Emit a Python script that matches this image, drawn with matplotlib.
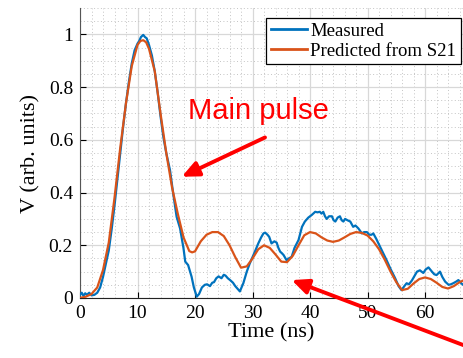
import matplotlib
matplotlib.use("Agg")
import matplotlib.pyplot as plt
from matplotlib.ticker import MultipleLocator, FuncFormatter

# measured pulse
t_meas = [0, 0.3, 0.6, 0.9, 1.2, 1.6, 2, 2.5, 3, 3.5, 4, 4.5, 5, 5.5, 6, 6.5, 7, 7.5, 8, 8.5,
          9, 9.5, 10, 10.3, 10.6, 11, 11.3, 11.6, 12, 12.5, 13, 13.5, 14, 14.5, 15, 15.65,
          16.2, 16.8, 17.4, 18.0, 18.3, 18.8, 19.4, 19.8, 20.3, 20.7, 21.2, 21.7, 22.1, 22.6,
          23.0, 23.3, 23.7, 24.1, 24.6, 25.0, 25.3, 25.7, 26.1, 26.6, 27.0, 27.4, 27.8, 28.4,
          29.0, 29.5, 29.9, 30.4, 31.0, 31.5, 31.9, 32.2, 32.6, 32.9, 33.3, 33.8, 34.2, 34.5,
          34.8, 35.1, 35.4, 35.9, 36.3, 36.8, 37.3, 38.0, 38.6, 39.1, 39.7, 40.3, 40.9, 41.3,
          41.7, 42.0, 42.3, 42.6, 42.9, 43.3, 43.8, 44.1, 44.4, 44.8, 45.2, 45.5, 45.8, 46.1,
          46.5, 47.0, 47.5, 47.9, 48.4, 48.7, 49.0, 49.4, 49.9, 50.3, 50.7, 51.0, 51.5, 51.9,
          52.6, 53.3, 54.0, 54.8, 55.4, 55.9, 56.4, 56.8, 57.2, 57.7, 58.2, 58.6, 59.1, 59.7,
          60.1, 60.6, 61.2, 61.6, 62.0, 62.6, 63.0, 63.5, 64.1, 64.5, 64.9, 65.4, 65.8, 66.2,
          66.6, 67]
v_meas = [0.012, 0.02, 0.008, 0.018, 0.012, 0.02, 0.01, 0.012, 0.02, 0.04, 0.08, 0.13, 0.18,
          0.26, 0.35, 0.45, 0.55, 0.65, 0.74, 0.82, 0.89, 0.94, 0.965, 0.975, 0.99, 0.998,
          0.99, 0.985, 0.96, 0.92, 0.86, 0.78, 0.69, 0.61, 0.55, 0.485, 0.397, 0.308, 0.264,
          0.188, 0.138, 0.125, 0.081, 0.04, 0.005, 0.015, 0.04, 0.05, 0.052, 0.045, 0.058,
          0.06, 0.075, 0.082, 0.075, 0.088, 0.085, 0.075, 0.068, 0.058, 0.045, 0.035, 0.025,
          0.056, 0.1, 0.13, 0.15, 0.175, 0.207, 0.23, 0.245, 0.248, 0.24, 0.232, 0.207, 0.215,
          0.21, 0.19, 0.176, 0.17, 0.163, 0.144, 0.15, 0.156, 0.19, 0.22, 0.27, 0.29, 0.305,
          0.315, 0.327, 0.325, 0.327, 0.32, 0.327, 0.31, 0.30, 0.31, 0.31, 0.295, 0.29, 0.305,
          0.31, 0.295, 0.29, 0.30, 0.295, 0.29, 0.27, 0.275, 0.264, 0.255, 0.245, 0.25, 0.25,
          0.24, 0.24, 0.245, 0.225, 0.207, 0.175, 0.144, 0.11, 0.075, 0.045, 0.03, 0.045,
          0.056, 0.052, 0.066, 0.085, 0.1, 0.105, 0.095, 0.108, 0.116, 0.1, 0.09, 0.087, 0.1,
          0.08, 0.062, 0.05, 0.052, 0.056, 0.062, 0.068, 0.058, 0.05, 0.05]

# predicted from S21
t_pred = [0, 1, 2, 3, 4, 5, 6, 7, 8, 9, 10, 10.5, 11, 11.5, 12, 13, 14, 15, 16, 17, 18, 19,
          19.5, 20, 21, 22, 23, 24, 25, 26, 27, 28, 29, 30, 31, 32, 33, 34, 35, 36, 37, 38,
          39, 40, 41, 42, 43, 44, 45, 46, 47, 48, 49, 50, 51, 52, 53, 54, 55, 56, 57, 58, 59,
          60, 61, 62, 63, 64, 65, 66, 67]
v_pred = [0.0, 0.005, 0.015, 0.04, 0.106, 0.21, 0.38, 0.57, 0.74, 0.88, 0.96, 0.975, 0.978,
          0.97, 0.945, 0.86, 0.70, 0.55, 0.42, 0.32, 0.23, 0.178, 0.173, 0.177, 0.215, 0.24,
          0.25, 0.25, 0.235, 0.20, 0.155, 0.115, 0.12, 0.15, 0.185, 0.20, 0.19, 0.165, 0.138,
          0.136, 0.16, 0.20, 0.238, 0.25, 0.245, 0.23, 0.218, 0.213, 0.218, 0.23, 0.243, 0.25,
          0.247, 0.237, 0.215, 0.185, 0.145, 0.10, 0.06, 0.03, 0.035, 0.055, 0.072, 0.078,
          0.072, 0.058, 0.042, 0.036, 0.045, 0.06, 0.07]

plt.rcParams['font.family'] = ['Liberation Serif', 'DejaVu Serif']

fig = plt.figure(figsize=(4.63, 3.58), dpi=100)
ax = fig.add_axes([0.1728, 0.1676, 0.8272, 0.81])

ax.plot(t_meas, v_meas, color='#0072BD', lw=1.6, label='Measured', zorder=3)
ax.plot(t_pred, v_pred, color='#D95319', lw=1.6, label='Predicted from S21', zorder=4)

ax.set_xlim(0, 66.6)
ax.set_ylim(0, 1.1)
ax.xaxis.set_major_locator(MultipleLocator(10))
ax.xaxis.set_minor_locator(MultipleLocator(2))
ax.yaxis.set_major_locator(MultipleLocator(0.2))
ax.yaxis.set_minor_locator(MultipleLocator(0.05))
ax.yaxis.set_major_formatter(FuncFormatter(lambda v, p: '%g' % round(v, 2)))

ax.grid(True, which='major', color='#d8d8d8', lw=0.9)
ax.grid(True, which='minor', color='#c4c4c4', lw=0.7, ls=(0, (1, 2.5)))
ax.set_axisbelow(True)

for s in ['top', 'right']:
    ax.spines[s].set_visible(False)
ax.spines['left'].set_color('#555555')
ax.spines['bottom'].set_color('#222222')
ax.tick_params(which='major', direction='in', length=4, labelsize=14, pad=5)
ax.tick_params(which='minor', length=0)

ax.set_xlabel('Time (ns)', fontsize=16, labelpad=1)
ax.set_ylabel('V (arb. units)', fontsize=16, labelpad=6)

leg = ax.legend(loc='upper right', bbox_to_anchor=(0.9948, 0.9655), borderaxespad=0,
                fontsize=13.5, handlelength=1.9, handletextpad=0.2, labelspacing=0.15,
                borderpad=0.25, fancybox=False, framealpha=1, edgecolor='black')
leg.get_frame().set_linewidth(0.9)
for line in leg.get_lines():
    line.set_linewidth(2)

ax.text(18.8, 0.678, 'Main pulse', color='red', fontsize=21, family='Liberation Sans',
        va='baseline')
ax.annotate('', xy=(17.69, 0.46), xytext=(32.17, 0.609),
            arrowprops=dict(arrowstyle='-|>,head_length=1.0,head_width=0.45',
                            color='red', lw=2.8, shrinkA=0, shrinkB=0))
ax.annotate('', xy=(36.8, 0.068), xytext=(480, 6.6), textcoords='figure pixels',
            arrowprops=dict(arrowstyle='-|>,head_length=1.0,head_width=0.45',
                            color='red', lw=2.8, shrinkA=0, shrinkB=0))

fig.savefig('out.png', dpi=100)
